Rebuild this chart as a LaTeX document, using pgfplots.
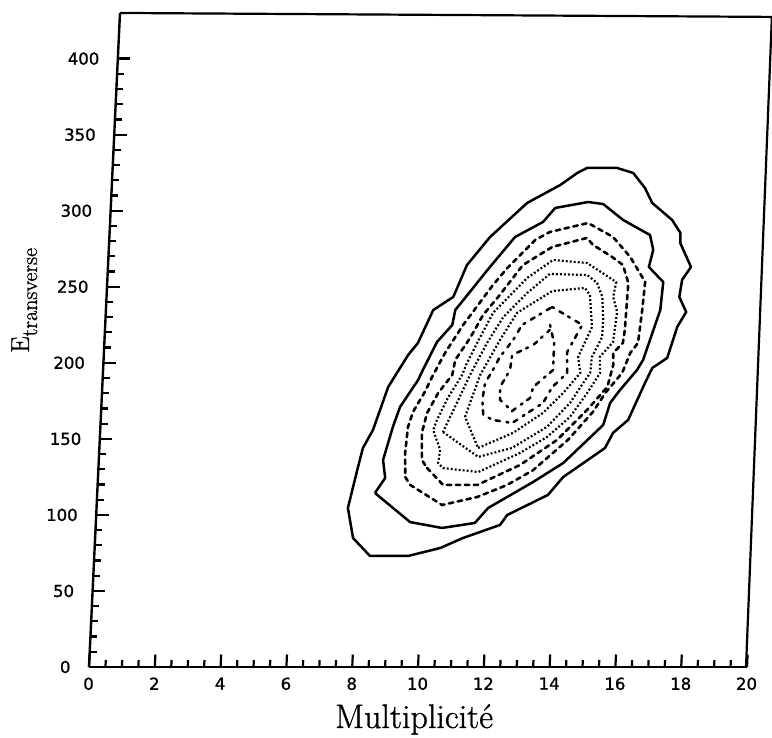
\documentclass[border=0pt]{standalone}
\usepackage{fontspec}
\usepackage{pgfplots}
\pgfplotsset{compat=1.18}
\newfontfamily\tickfont[FakeBold=1.2]{DejaVu Sans}
\newfontfamily\labfont[FakeBold=1.0]{Latin Modern Roman}
\pgfplotsset{
 csol/.style={black,line width=2.5pt,line join=round},
 cdsh/.style={black,line width=2.6pt,dash pattern=on 4.5pt off 4.5pt,line cap=round},
 cdtt/.style={black,line width=2.2pt,dash pattern=on 1.9pt off 2.1pt},
 cddsh/.style={black,line width=2.5pt,dash pattern=on 2pt off 6.5pt on 4.5pt off 5.5pt,line cap=round},
}
\begin{document}
\begin{tikzpicture}
\useasboundingbox (-89pt,-71pt) rectangle (683pt,667pt);
\begin{axis}[
 at={(0,0)},anchor=origin,
 x={(32.9pt,0pt)},y={(0.0721pt,1.521pt)},
 xmin=0,xmax=20,ymin=0,ymax=430,
 clip=false,
 axis lines*=left,
 axis line style={black,line width=2.4pt,-},
 xtick={0,2,...,20},ytick={0,50,...,400},
 minor x tick num=3,minor y tick num=4,
 tick align=inside,
 major tick length=12.5pt,minor tick length=7pt,
 every tick/.style={black,line width=2.2pt},
 minor tick style={black,line width=2.2pt},
 major tick style={black,line width=2.2pt},
 /pgf/number format/assume math mode=true,
 ticklabel style={font=\tickfont\fontsize{16.5}{16.5}\selectfont,black},
 xticklabel style={yshift=-7pt},
 yticklabel style={xshift=-15pt},
 scaled ticks=false,
]
\draw[black,line width=2.2pt] (axis cs:0,430) -- (axis cs:19.82,427.4) -- (axis cs:19.97,0);
% contour 1
\addplot[csol] coordinates {(7.64,104.5)(7.84,84.8)(8.38,73.0)(9.54,73.0)(10.50,78.2)(11.18,84.8)(12.29,93.4)(12.49,99.9)(13.70,113.1)(14.14,124.9)(15.37,144)(15.59,153.9)(16.03,162.4)(16.49,186.7)(16.69,196.6)(17.13,203.2)(17.39,223.6)(17.64,233.4)(17.41,243.3)(17.47,254.5)(17.72,263)(17.36,278.8)(17.35,285.4)(17.08,293.9)(16.45,305.1)(16.21,314.9)(15.83,324.8)(15.33,328.1)(14.42,328.1)(14.13,324.8)(13.63,316.9)(12.65,305.1)(11.57,282.7)(10.91,264.3)(10.54,243.3)(9.95,234.7)(9.53,213)(9.25,205.1)(8.69,184.1)(8.29,155.8)(8.01,144)(7.87,129.5)(7.64,104.5)};
% contour 2
\addplot[csol] coordinates {(8.44,114.4)(9.55,95.3)(10.53,91.4)(11.52,94.7)(11.90,104.5)(13.23,121.6)(14.12,134.1)(15.28,159.1)(15.46,173.6)(15.74,182.1)(16.23,195.3)(16.40,201.9)(16.85,234.7)(16.90,253.1)(16.44,263)(16.55,274.2)(16.43,284)(15.59,293.9)(14.96,304.4)(14.50,305.7)(13.51,301.8)(13.16,292.6)(12.33,282.7)(11.61,263)(10.62,234.7)(10.55,224.9)(10.11,213.7)(9.72,195.3)(9.59,188.7)(9.08,171)(8.89,157.8)(8.64,136.1)(8.73,124.3)(8.44,114.4)};
% contour 3
\addplot[cdsh] coordinates {(9.34,124.9)(9.50,119.7)(10.50,106.5)(11.56,111.8)(12.45,119.7)(13.22,129.5)(14.23,149.3)(14.95,167.7)(15.30,180.2)(15.78,193.3)(16.0,206.5)(16.22,213)(16.30,234.7)(16.35,253.1)(15.86,269.6)(15.31,282.7)(14.53,291.9)(13.38,286)(12.95,280.8)(12.14,262.3)(11.73,251.2)(10.88,224.9)(10.37,206.5)(10.01,190.7)(9.81,180.8)(9.48,167.7)(9.35,157.8)(9.30,140.7)(9.34,124.9)};
% contour 4
\addplot[cdsh] coordinates {(9.99,130.8)(10.50,119.7)(11.54,119.7)(12.81,132.8)(13.90,149.3)(14.77,169)(15.35,184.1)(15.50,198.6)(15.48,206.5)(15.76,213)(15.80,221.6)(15.84,252.5)(15.65,264.3)(15.31,269.6)(14.71,277.5)(14.52,282.1)(13.48,276.2)(12.61,264.3)(11.95,244.6)(11.47,231.4)(11.11,216.3)(10.69,201.9)(10.62,192)(10.22,180.2)(9.91,167)(9.78,153.9)(9.82,136.1)(9.99,130.8)};
% contour 5
\addplot[cdtt] coordinates {(10.36,142.7)(10.32,134.1)(10.47,130.8)(11.55,128.2)(12.79,140.7)(13.59,151.2)(14.26,164.4)(14.75,180.2)(15.11,193.3)(15.08,203.8)(15.46,213.7)(15.54,233.4)(15.40,243.3)(15.47,253.1)(14.56,265.6)(13.52,267.6)(12.76,255.8)(11.77,232.8)(11.33,213)(11.05,199.9)(10.92,192)(10.52,176.9)(10.22,162.4)(10.12,155.8)(10.36,142.7)};
% contour 6
\addplot[cdtt] coordinates {(10.42,154.5)(11.53,138.1)(12.54,144)(13.57,157.8)(14.24,173.6)(14.61,186.7)(14.81,193.3)(14.84,203.8)(15.12,217)(15.13,228.2)(15.07,243.3)(14.89,252.5)(14.58,257.7)(13.44,258.4)(12.78,245.9)(12.09,230.1)(11.63,213)(11.16,192)(10.84,175.6)(10.42,154.5)};
% contour 7
\addplot[cdtt] coordinates {(11.51,144)(12.55,153.9)(13.43,167)(14.02,180.2)(14.51,193.3)(14.42,203.8)(14.80,223.6)(14.69,244.6)(14.53,249.2)(13.54,247.2)(12.50,232.8)(12.02,215)(11.47,192)(11.20,173.6)(11.07,164.4)(11.51,144)};
% contour 8
\addplot[cddsh] coordinates {(13.56,236.7)(14.50,224.9)(14.08,207.1)(14.11,193.3)(13.68,184.1)(13.42,173.6)(12.51,160.4)(11.92,162.4)(11.62,165.7)(11.57,175.6)(11.63,186.7)(11.85,195.3)(12.04,203.8)(12.42,215)(12.67,224.9)(13.56,236.7)};
% contour 9
\addplot[cddsh] coordinates {(13.52,224.9)(13.67,213)(13.68,195.3)(13.10,184.1)(13.02,176.9)(12.49,168.3)(12.11,175.6)(12.09,184.1)(12.37,195.3)(12.41,205.1)(13.04,211.7)(13.52,221.6)};
\end{axis}
\node[anchor=base west,inner sep=0pt] at (246pt,-61pt) {\labfont\fontsize{34}{34}\selectfont Multiplicit\'e};
\node[rotate=90,anchor=base west,inner sep=0pt] at (-60pt,314pt) {\labfont\fontsize{26}{26}\selectfont E\raisebox{-8pt}{\fontsize{22}{22}\selectfont transverse}};
\end{tikzpicture}
\end{document}
